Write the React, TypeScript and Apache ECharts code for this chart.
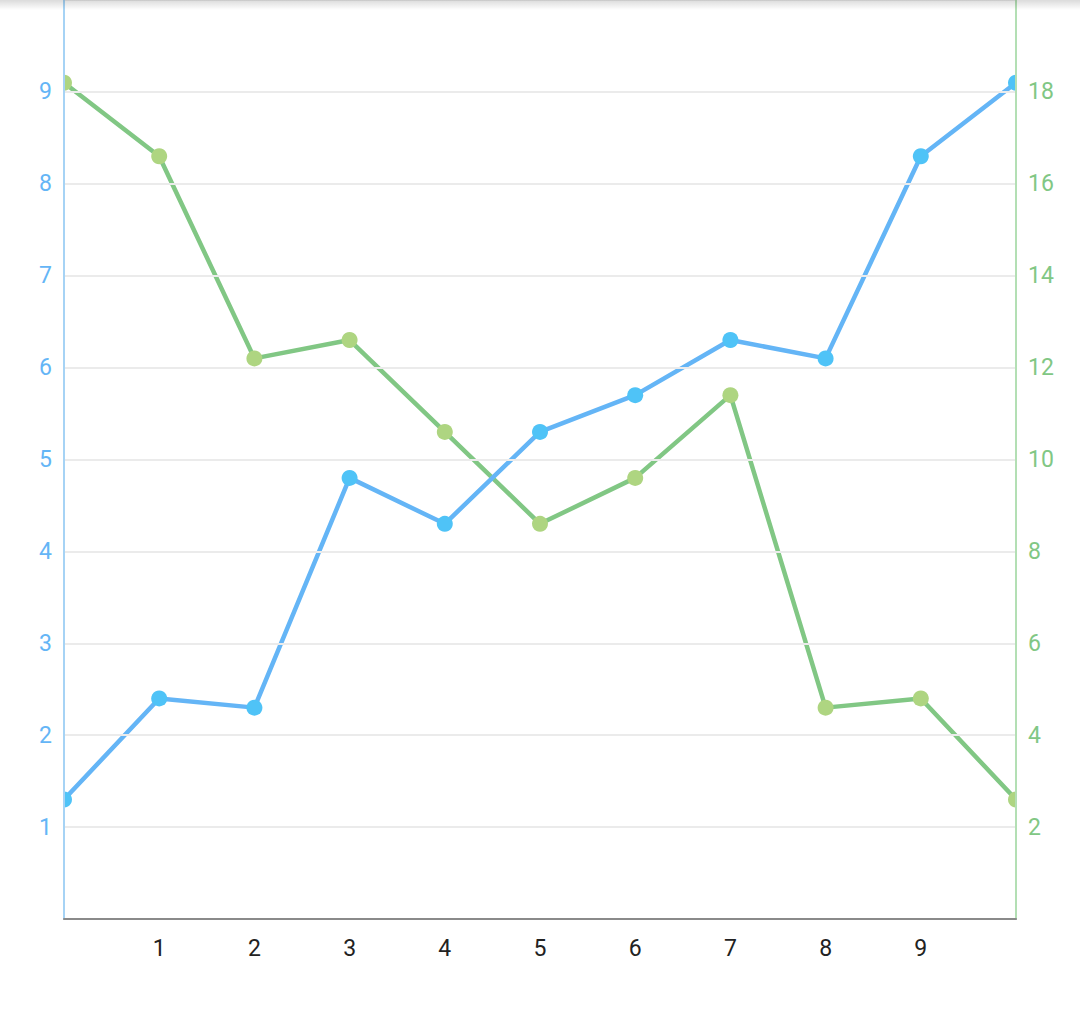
import React, { useEffect, useRef } from "react";
import * as echarts from "echarts";

const xValues = [0, 1, 2, 3, 4, 5, 6, 7, 8, 9, 10];
const blueValues = [1.3, 2.4, 2.3, 4.8, 4.3, 5.3, 5.7, 6.3, 6.1, 8.3, 9.1];
const greenValues = [18.2, 16.6, 12.2, 12.6, 10.6, 8.6, 9.6, 11.4, 4.6, 4.8, 2.6];

export default function App() {
  const ref = useRef<HTMLDivElement>(null);
  useEffect(() => {
    document.body.style.margin = "0";
    const chart = echarts.init(ref.current!, null, { renderer: "svg" });
    const font = "Roboto";
    chart.setOption({
      animation: false,
      backgroundColor: "#ffffff",
      grid: { left: 64, right: 64, top: 0, bottom: 97, containLabel: false },
      xAxis: {
        type: "value",
        min: 0,
        max: 10,
        interval: 1,
        z: 10,
        axisLine: { show: true, onZero: false, lineStyle: { color: "#8a8a8a", width: 2 } },
        axisTick: { show: false },
        splitLine: { show: false },
        axisLabel: {
          color: "#222222",
          fontSize: 23,
          fontFamily: font,
          margin: 18,
          formatter: (v: number) => (v === 0 || v === 10 ? "" : String(v)),
        },
      },
      yAxis: [
        {
          type: "value",
          min: 0,
          max: 10,
          interval: 1,
          position: "left",
          z: 10,
          axisLine: { show: true, lineStyle: { color: "#a6d3f5", width: 2 } },
          axisTick: { show: false },
          splitLine: { show: true, lineStyle: { color: "#ebebeb", width: 2 } },
          axisLabel: {
            color: "#64b5f6",
            fontSize: 23,
            fontFamily: font,
            margin: 12,
            formatter: (v: number) => (v === 0 || v === 10 ? "" : String(v)),
          },
        },
        {
          type: "value",
          min: 0,
          max: 20,
          interval: 2,
          position: "right",
          z: 10,
          axisLine: { show: true, lineStyle: { color: "#b3dfb4", width: 2 } },
          axisTick: { show: false },
          splitLine: { show: false },
          axisLabel: {
            color: "#81c784",
            fontSize: 23,
            fontFamily: font,
            margin: 12,
            formatter: (v: number) => (v === 0 || v === 20 ? "" : String(v)),
          },
        },
      ],
      graphic: [
        { type: "rect", z: 5, shape: { x: 0, y: 0, width: 63, height: 1016 }, style: { fill: "#ffffff" } },
        { type: "rect", z: 5, shape: { x: 1017, y: 0, width: 63, height: 1016 }, style: { fill: "#ffffff" } },
      ],
      series: [
        {
          type: "line",
          yAxisIndex: 0,
          z: 3,
          data: xValues.map((x, i) => [x, blueValues[i]]),
          symbol: "circle",
          symbolSize: 16,
          lineStyle: { color: "#64b5f6", width: 4.5 },
          itemStyle: { color: "#4fc3f7" },
          clip: false,
        },
        {
          type: "line",
          yAxisIndex: 1,
          z: 2,
          data: xValues.map((x, i) => [x, greenValues[i]]),
          symbol: "circle",
          symbolSize: 16,
          lineStyle: { color: "#81c784", width: 4.5 },
          itemStyle: { color: "#aed581" },
          clip: false,
        },
      ],
    });
    return () => chart.dispose();
  }, []);
  return (
    <div style={{ position: "fixed", left: 0, top: 0, width: 1080, height: 1016 }}>
      <div ref={ref} style={{ width: 1080, height: 1016 }} />
      <div
        style={{
          position: "absolute",
          left: 0,
          top: 0,
          width: 1080,
          height: 10,
          background: "linear-gradient(rgba(0,0,0,0.14), rgba(0,0,0,0))",
          pointerEvents: "none",
        }}
      />
    </div>
  );
}
